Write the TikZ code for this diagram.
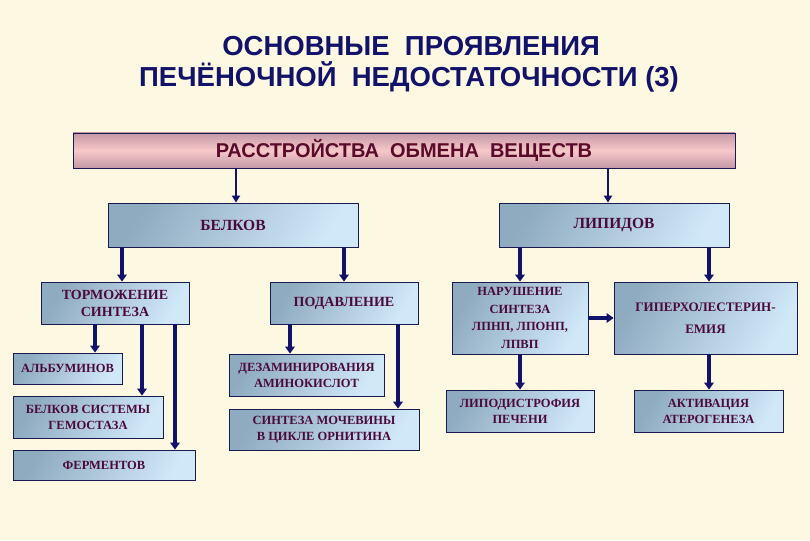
\documentclass[tikz,border=0pt]{standalone}
\usepackage{fontspec}
\setmainfont{Liberation Serif}
\newfontfamily\titlefont{Liberation Sans}
\usetikzlibrary{arrows.meta}
\definecolor{bg}{HTML}{FCF8E2}
\definecolor{navy}{HTML}{12126A}
\definecolor{plum}{HTML}{4A0A3A}
\definecolor{maroon}{HTML}{5A0A2A}
\definecolor{bluedark}{HTML}{8FABC0}
\definecolor{bluelight}{HTML}{D0E8F8}
\definecolor{pinkmid}{HTML}{F6C8C8}
\definecolor{pinkedge}{HTML}{C498A8}
\definecolor{boxline}{HTML}{1A1A50}
\tikzset{
  bbox/.style={draw=boxline, line width=0.8pt, inner sep=0pt, align=center,
    text=plum, shading=axis, left color=bluedark, right color=bluelight, shading angle=60},
  lv1/.style={font=\fontsize{15.5}{18}\selectfont\bfseries},
  lv2/.style={font=\fontsize{14}{17}\selectfont\bfseries},
  lv3/.style={font=\fontsize{12.5}{16}\selectfont\bfseries},
  pbox/.style={draw=boxline, line width=0.8pt, inner sep=0pt,
    top color=pinkedge, bottom color=pinkedge, middle color=pinkmid,
    text=maroon, font=\titlefont\fontsize{20}{24}\selectfont\bfseries},
  arr/.style={draw=navy, line width=3.5pt, -{Triangle[width=9.5pt,length=7pt]}},
  arrthin/.style={draw=navy, line width=2.5pt, -{Triangle[width=8pt,length=7pt]}},
  ttl/.style={text=navy, font=\titlefont\fontsize{27.5}{30}\selectfont\bfseries, anchor=base}
}
\begin{document}
\begin{tikzpicture}[x=1pt,y=-1pt]
\fill[bg] (0,0) rectangle (810,540);
\useasboundingbox (0,0) rectangle (810,540);

\node[ttl] (t1) at (411,56) {ОСНОВНЫЕ\ \ ПРОЯВЛЕНИЯ};
\node[ttl] (t2) at (409,87) {ПЕЧЁНОЧНОЙ\ \ НЕДОСТАТОЧНОСТИ (3)};

\node[pbox, minimum width=662pt, minimum height=35pt] (top) at (404,150.5) {РАССТРОЙСТВА\ \ ОБМЕНА\ \ ВЕЩЕСТВ};

\node[bbox, lv1, minimum width=250pt, minimum height=44pt] (bel) at (233,225) {БЕЛКОВ};
\node[bbox, lv1, minimum width=230pt, minimum height=44pt] (lip) at (614,225) {ЛИПИДОВ};

\node[bbox, lv2, minimum width=148pt, minimum height=42pt] (tor) at (115,303) {ТОРМОЖЕНИЕ\\СИНТЕЗА};
\node[bbox, lv2, minimum width=148pt, minimum height=42pt] (pod) at (344,303) {ПОДАВЛЕНИЕ};

\node[bbox, lv3, minimum width=109pt, minimum height=31pt] (alb) at (67.5,368.5) {АЛЬБУМИНОВ};
\node[bbox, lv3, minimum width=150pt, minimum height=42pt] (gem) at (88,417) {БЕЛКОВ СИСТЕМЫ\\ГЕМОСТАЗА};
\node[bbox, lv3, minimum width=182pt, minimum height=30pt] (fer) at (104,465) {ФЕРМЕНТОВ};

\node[bbox, lv3, minimum width=155pt, minimum height=42pt] (dez) at (306.5,375) {ДЕЗАМИНИРОВАНИЯ\\АМИНОКИСЛОТ};
\node[bbox, lv3, minimum width=190pt, minimum height=41pt] (moch) at (324,429.5) {СИНТЕЗА МОЧЕВИНЫ\\В ЦИКЛЕ ОРНИТИНА};

\node[bbox, lv3, font=\fontsize{12.5}{17.5}\selectfont\bfseries, minimum width=136pt, minimum height=72pt] (nar) at (520,318) {НАРУШЕНИЕ\\СИНТЕЗА\\ЛПНП, ЛПОНП,\\ЛПВП};
\node[bbox, lv3, font=\fontsize{13}{22}\selectfont\bfseries, minimum width=183pt, minimum height=72pt] (gip) at (705.5,318) {ГИПЕРХОЛЕСТЕРИН-\\ЕМИЯ};

\node[bbox, lv3, minimum width=148pt, minimum height=42pt] (lipo) at (520,411) {ЛИПОДИСТРОФИЯ\\ПЕЧЕНИ};
\node[bbox, lv3, minimum width=149pt, minimum height=42pt] (akt) at (708.5,411) {АКТИВАЦИЯ\\АТЕРОГЕНЕЗА};

\coordinate (xa) at (236,0);
\coordinate (xb) at (608,0);
\coordinate (xc) at (122,0);
\coordinate (xd) at (344,0);
\coordinate (xe) at (520,0);
\coordinate (xf) at (709,0);
\coordinate (xg) at (95,0);
\coordinate (xh) at (142,0);
\coordinate (xi) at (175,0);
\coordinate (xj) at (290,0);
\coordinate (xk) at (398,0);

\draw[arrthin] (top.south -| xa) -- (bel.north -| xa);
\draw[arrthin] (top.south -| xb) -- (lip.north -| xb);
\draw[arr] (bel.south -| xc) -- (tor.north -| xc);
\draw[arr] (bel.south -| xd) -- (pod.north -| xd);
\draw[arr] (lip.south -| xe) -- (nar.north -| xe);
\draw[arr] (lip.south -| xf) -- (gip.north -| xf);
\draw[arr] (tor.south -| xg) -- (alb.north -| xg);
\draw[arr] (tor.south -| xh) -- (gem.north -| xh);
\draw[arr] (tor.south -| xi) -- (fer.north -| xi);
\draw[arr] (pod.south -| xj) -- (dez.north -| xj);
\draw[arr] (pod.south -| xk) -- (moch.north -| xk);
\draw[arr] (nar.east) -- (gip.west);
\draw[arr] (nar.south -| xe) -- (lipo.north -| xe);
\draw[arr] (gip.south -| xf) -- (akt.north -| xf);
\end{tikzpicture}
\end{document}
